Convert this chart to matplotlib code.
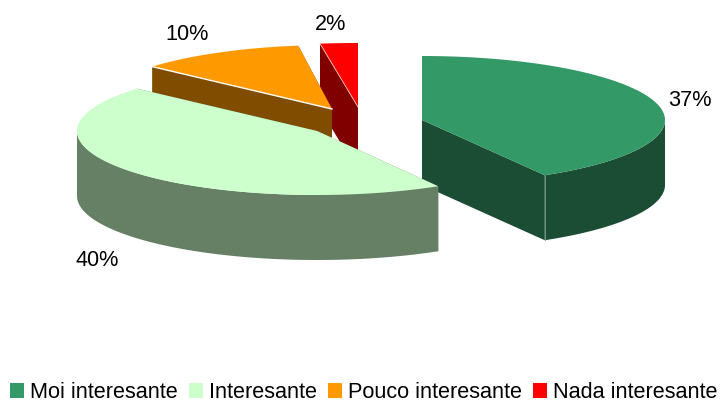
import numpy as np
import matplotlib
matplotlib.use("Agg")
import matplotlib.pyplot as plt
from matplotlib.patches import Patch, Polygon

plt.rcParams['font.family'] = ['Liberation Sans', 'DejaVu Sans']

categories = ["Moi interesante", "Interesante", "Pouco interesante", "Nada interesante"]
values = [37, 40, 10, 2]
labels = ["37%", "40%", "10%", "2%"]
top_colors = ["#339966", "#CCFFCC", "#FF9900", "#FF0000"]
wall_colors = ["#1A4D33", "#668066", "#804D00", "#800000"]

# exploded slice centres and horizontal radii in canvas pixels
centres = [(422, 120), (317, 131), (332, 109), (358, 107)]
radii_x = [243, 240, 240, 270]
label_pos = [(690, 100), (97, 261), (187, 35), (331, 25)]
ry, depth = 64, 65
FS = 15.6
draw_order = [3, 2, 0, 1]

fig = plt.figure(figsize=(7.2, 4.03), dpi=100)
ax = fig.add_axes([0, 0, 1, 1])
ax.set_xlim(0, 720)
ax.set_ylim(403, 0)
ax.axis("off")

fractions = np.array(values) / np.sum(values)
edges = np.concatenate([[0], np.cumsum(fractions)]) * 2 * np.pi


def arc(i, t0, t1, n=80):
    t = np.linspace(t0, t1, n)
    cx, cy = centres[i]
    return cx + radii_x[i] * np.sin(t), cy - ry * np.cos(t)


for level, i in enumerate(draw_order):
    cx, cy = centres[i]
    ox, oy = arc(i, edges[i], edges[i + 1])
    z = 1 + level * 3
    # radial side walls
    for j in (0, -1):
        a, b = (cx, cy), (ox[j], oy[j])
        ax.add_patch(Polygon([a, b, (b[0], b[1] + depth), (a[0], a[1] + depth)],
                             closed=True, fc=wall_colors[i], ec="none", zorder=z))
    # rim: only the part of the arc that faces the viewer
    t0 = max(edges[i], np.pi / 2)
    t1 = min(edges[i + 1], 3 * np.pi / 2)
    if t1 > t0:
        rx_, ry_ = arc(i, t0, t1)
        rim = np.column_stack([np.r_[rx_, rx_[::-1]], np.r_[ry_, ry_[::-1] + depth]])
        ax.add_patch(Polygon(rim, closed=True, fc=wall_colors[i], ec="none", zorder=z))
    top = np.column_stack([np.r_[cx, ox], np.r_[cy, oy]])
    ax.add_patch(Polygon(top, closed=True, fc=top_colors[i], ec="none", zorder=z + 1))

# thin light edges seen on the reference
ox, oy = arc(2, edges[2], edges[3])
ax.plot([centres[2][0], ox[0]], [centres[2][1], oy[0]], color="white", lw=1.0, zorder=5.5)
ox, oy = arc(3, edges[3], edges[4])
ax.plot([centres[3][0], ox[0]], [centres[3][1], oy[0]], color="#FFC0C0", lw=0.6, zorder=2.5)
ox, oy = arc(0, edges[0], edges[1])
ax.plot([ox[-1], ox[-1]], [oy[-1], oy[-1] + depth], color="#7FA08F", lw=0.6, zorder=8)

for (lx, ly), s in zip(label_pos, labels):
    ax.text(lx, ly, s, fontsize=FS, ha="center", va="center", color="black", zorder=20)

handles = [Patch(fc=c, ec="none") for c in top_colors]
leg = ax.legend(handles, categories, ncol=4, loc="lower left",
                bbox_to_anchor=(10 / 720, 0 / 403), frameon=False, fontsize=FS,
                handlelength=0.66, handleheight=0.66, handletextpad=0.28,
                columnspacing=0.49, borderpad=0, borderaxespad=0)

fig.savefig("out.png", dpi=100)
